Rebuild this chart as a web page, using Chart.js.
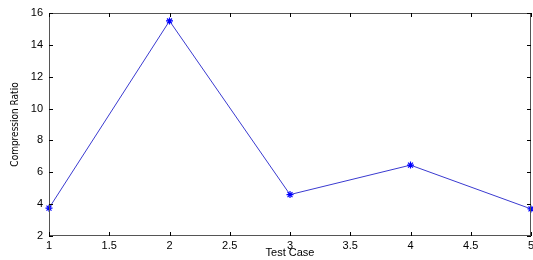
<!DOCTYPE html>
<html>
<head>
<meta charset="utf-8">
<script src="https://cdn.jsdelivr.net/npm/chart.js@4.4.0/dist/chart.umd.min.js"></script>
<style>
  html, body { margin: 0; padding: 0; background: #fff; }
  #wrap { width: 533px; height: 260px; }
</style>
</head>
<body>
<div id="wrap"><canvas id="myChart" width="533" height="260"></canvas></div>
<script>
// Data
const testCases = [1, 2, 3, 4, 5];
const ratios = [3.75, 15.5, 4.6, 6.45, 3.7];
const xTicks = [1, 1.5, 2, 2.5, 3, 3.5, 4, 4.5, 5];
const yTicks = [2, 4, 6, 8, 10, 12, 14, 16];

const axisColor = '#555';
const sans = "'Liberation Sans', Arial, sans-serif";
const narrow = "'Liberation Sans Narrow', 'DejaVu Sans Condensed', 'Liberation Sans', sans-serif";

// MATLAB style box with inward ticks on every side
const boxTicks = {
  id: 'boxTicks',
  afterDraw(chart) {
    const { ctx, chartArea: a, scales } = chart;
    const len = 4;
    ctx.save();
    ctx.strokeStyle = axisColor;
    ctx.lineWidth = 1;
    ctx.strokeRect(a.left + 0.5, a.top + 0.5, a.right - a.left - 1, a.bottom - a.top - 1);
    ctx.strokeStyle = '#000';
    ctx.beginPath();
    xTicks.forEach(v => {
      const x = Math.round(scales.x.getPixelForValue(v)) + 0.5;
      ctx.moveTo(x, a.bottom); ctx.lineTo(x, a.bottom - len);
      ctx.moveTo(x, a.top); ctx.lineTo(x, a.top + len);
    });
    yTicks.forEach(v => {
      const y = Math.round(scales.y.getPixelForValue(v)) + 0.5;
      ctx.moveTo(a.left, y); ctx.lineTo(a.left + len, y);
      ctx.moveTo(a.right, y); ctx.lineTo(a.right - len, y);
    });
    ctx.stroke();
    ctx.restore();
  }
};

const ctx = document.getElementById('myChart');
const myChart = new Chart(ctx, {
  type: 'line',
  data: {
    datasets: [{
      label: 'Compression Ratio',
      data: testCases.map((t, i) => ({ x: t, y: ratios[i] })),
      borderColor: '#3a3ad0',
      borderWidth: 1,
      pointStyle: 'star',
      pointRadius: 3.5,
      pointBorderColor: '#0000ff',
      pointBorderWidth: 1.2,
      pointBackgroundColor: '#0000ff',
      tension: 0,
      clip: false
    }]
  },
  options: {
    responsive: false,
    animation: false,
    layout: { autoPadding: false, padding: { top: 13, right: 2, left: 0, bottom: 0 } },
    plugins: { legend: { display: false }, tooltip: { enabled: false } },
    scales: {
      x: {
        type: 'linear',
        min: 1, max: 5,
        afterBuildTicks: s => { s.ticks = xTicks.map(v => ({ value: v })); },
        afterFit: s => { s.height = 24; s.paddingLeft = 0; s.paddingRight = 0; },
        grid: { display: false, drawTicks: false },
        border: { display: false },
        ticks: {
          color: '#000', padding: 3, maxRotation: 0,
          font: { family: sans, size: 11 },
          callback: v => String(v)
        },
        title: { display: true, text: 'Test Case', color: '#000', padding: 0, font: { family: sans, size: 11 } }
      },
      y: {
        min: 2, max: 16,
        afterBuildTicks: s => { s.ticks = yTicks.map(v => ({ value: v })); },
        afterFit: s => { s.width = 49; },
        grid: { display: false, drawTicks: false },
        border: { display: false },
        ticks: { color: '#000', padding: 6, font: { family: sans, size: 11 } },
        title: { display: true, text: 'Compression Ratio', color: '#000', padding: { top: 9, bottom: 0 }, font: { family: narrow, size: 10 } }
      }
    }
  },
  plugins: [boxTicks]
});
</script>
</body>
</html>
